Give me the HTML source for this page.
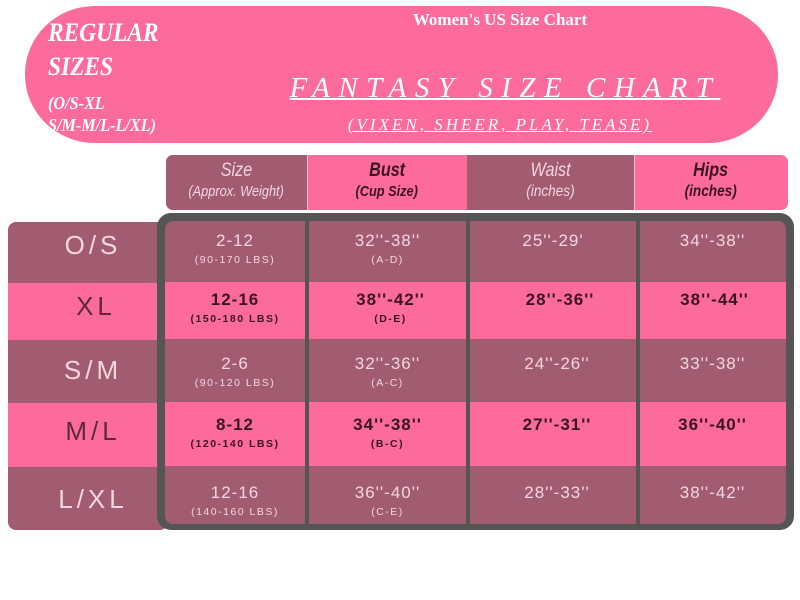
<!DOCTYPE html>
<html><head><meta charset="utf-8"><style>
*{margin:0;padding:0;box-sizing:border-box}
body{width:800px;height:600px;background:#fff;position:relative;overflow:hidden;font-family:"Liberation Sans",sans-serif}
.a{position:absolute}
.banner{left:25px;top:6px;width:753px;height:137px;background:#fd6b9c;border-radius:70px/68px}
.serif{font-family:"Liberation Serif",serif;color:#fff;font-weight:bold}
.m{background:#a25c72}.p{background:#fd6b9c}
.hc{text-align:center;font-style:italic;line-height:20px}
.cx{display:inline-block;transform:scaleX(0.85)}
.cell{text-align:center}
.v{font-size:17px;letter-spacing:1px;display:block;margin-top:11px}
.s{font-size:10.5px;letter-spacing:1.5px;display:block;margin-top:3px}
.lt{color:#f2d6df}.dk{color:#3a1422}
.lbl{font-size:26px;letter-spacing:4px;text-align:center;width:150px;left:18px}
</style></head><body>
<div class="a banner"></div>
<div class="a serif" style="left:48px;top:16px;font-size:26px;font-style:italic;line-height:34px;transform:scaleX(.9);transform-origin:left">REGULAR<br>SIZES</div>
<div class="a serif" style="left:48px;top:92px;font-size:18px;font-style:italic;line-height:22px;transform:scaleX(.9);transform-origin:left">(O/S-XL<br>S/M-M/L-L/XL)</div>
<div class="a serif" style="left:300px;top:10px;width:400px;text-align:center;font-size:17px">Women's US Size Chart</div>
<div class="a serif" style="left:270px;top:72px;width:470px;text-align:center;font-size:29px;font-style:italic;font-weight:normal;letter-spacing:8.5px;text-decoration:underline;text-decoration-thickness:2px">FANTASY SIZE CHART</div>
<div class="a serif" style="left:300px;top:115px;width:400px;text-align:center;font-size:17px;font-style:italic;font-weight:normal;letter-spacing:3px;text-decoration:underline">(VIXEN, SHEER, PLAY, TEASE)</div>

<div class="a" style="left:166px;top:155px;width:622px;height:55px;border-radius:7px;overflow:hidden;background:#fd6b9c">
 <div class="a m" style="left:0;top:0;width:141px;height:55px"></div>
 <div class="a m" style="left:301px;top:0;width:167px;height:55px"></div>
 <div class="a" style="left:141px;top:0;width:1px;height:55px;background:#f4c0d0"></div>
 <div class="a" style="left:468px;top:0;width:1px;height:55px;background:#f4c0d0"></div>
 <div class="a hc lt" style="left:0;top:6px;width:141px"><span class="cx" style="font-size:19px">Size</span><br><span class="cx" style="font-size:15px">(Approx. Weight)</span></div>
 <div class="a hc dk" style="left:141px;top:6px;width:160px;font-weight:bold"><span class="cx" style="font-size:19px">Bust</span><br><span class="cx" style="font-size:15px">(Cup Size)</span></div>
 <div class="a hc lt" style="left:301px;top:6px;width:167px"><span class="cx" style="font-size:19px">Waist</span><br><span class="cx" style="font-size:16px">(inches)</span></div>
 <div class="a hc dk" style="left:468px;top:6px;width:154px;font-weight:bold"><span class="cx" style="font-size:19px">Hips</span><br><span class="cx" style="font-size:16px">(inches)</span></div>
</div>

<div class="a" style="left:8px;top:222px;width:160px;height:308px;border-radius:8px;overflow:hidden">
 <div class="a m" style="left:0;top:0;width:160px;height:61px"></div>
 <div class="a p" style="left:0;top:61px;width:160px;height:57px"></div>
 <div class="a m" style="left:0;top:118px;width:160px;height:63px"></div>
 <div class="a p" style="left:0;top:181px;width:160px;height:64px"></div>
 <div class="a m" style="left:0;top:245px;width:160px;height:63px"></div>
</div>
<div class="a lbl lt" style="top:230px">O/S</div>
<div class="a lbl" style="top:291px;color:#5a2a3c;left:21px">XL</div>
<div class="a lbl lt" style="top:355px">S/M</div>
<div class="a lbl" style="top:416px;color:#5a2a3c">M/L</div>
<div class="a lbl lt" style="top:484px">L/XL</div>

<div class="a" style="left:157px;top:213px;width:637px;height:317px;background:#555;border-radius:14px;overflow:hidden">
 <div class="a" style="left:8px;top:8px;width:621px;height:303px;border-radius:8px;overflow:hidden;background:#555">
  <div class="a m" style="left:0;top:0;width:621px;height:61px"></div>
  <div class="a p" style="left:0;top:61px;width:621px;height:57px"></div>
  <div class="a m" style="left:0;top:118px;width:621px;height:63px"></div>
  <div class="a p" style="left:0;top:181px;width:621px;height:64px"></div>
  <div class="a m" style="left:0;top:245px;width:621px;height:58px"></div>
  <div class="a" style="left:140px;top:0;width:4px;height:303px;background:#555"></div>
  <div class="a" style="left:301px;top:0;width:4px;height:303px;background:#555"></div>
  <div class="a" style="left:471px;top:0;width:4px;height:303px;background:#555"></div>
 </div>
</div>

<div class="a cell lt" style="left:165px;top:220px;width:140px"><span class="v">2-12</span><span class="s">(90-170 LBS)</span></div>
<div class="a cell lt" style="left:309px;top:220px;width:157px"><span class="v">32''-38''</span><span class="s">(A-D)</span></div>
<div class="a cell lt" style="left:470px;top:220px;width:166px"><span class="v">25''-29'</span></div>
<div class="a cell lt" style="left:640px;top:220px;width:145px"><span class="v">34''-38''</span></div>

<div class="a cell dk" style="left:165px;top:279px;width:140px;font-weight:bold"><span class="v">12-16</span><span class="s">(150-180 LBS)</span></div>
<div class="a cell dk" style="left:312px;top:279px;width:157px;font-weight:bold"><span class="v">38''-42''</span><span class="s">(D-E)</span></div>
<div class="a cell dk" style="left:477px;top:279px;width:166px;font-weight:bold"><span class="v">28''-36''</span></div>
<div class="a cell dk" style="left:642px;top:279px;width:145px;font-weight:bold"><span class="v">38''-44''</span></div>

<div class="a cell lt" style="left:165px;top:343px;width:140px"><span class="v">2-6</span><span class="s">(90-120 LBS)</span></div>
<div class="a cell lt" style="left:309px;top:343px;width:157px"><span class="v">32''-36''</span><span class="s">(A-C)</span></div>
<div class="a cell lt" style="left:474px;top:343px;width:166px"><span class="v">24''-26''</span></div>
<div class="a cell lt" style="left:640px;top:343px;width:145px"><span class="v">33''-38''</span></div>

<div class="a cell dk" style="left:165px;top:404px;width:140px;font-weight:bold"><span class="v">8-12</span><span class="s">(120-140 LBS)</span></div>
<div class="a cell dk" style="left:309px;top:404px;width:157px;font-weight:bold"><span class="v">34''-38''</span><span class="s">(B-C)</span></div>
<div class="a cell dk" style="left:474px;top:404px;width:166px;font-weight:bold"><span class="v">27''-31''</span></div>
<div class="a cell dk" style="left:640px;top:404px;width:145px;font-weight:bold"><span class="v">36''-40''</span></div>

<div class="a cell lt" style="left:165px;top:472px;width:140px"><span class="v">12-16</span><span class="s">(140-160 LBS)</span></div>
<div class="a cell lt" style="left:309px;top:472px;width:157px"><span class="v">36''-40''</span><span class="s">(C-E)</span></div>
<div class="a cell lt" style="left:474px;top:472px;width:166px"><span class="v">28''-33''</span></div>
<div class="a cell lt" style="left:640px;top:472px;width:145px"><span class="v">38''-42''</span></div>
</body></html>
